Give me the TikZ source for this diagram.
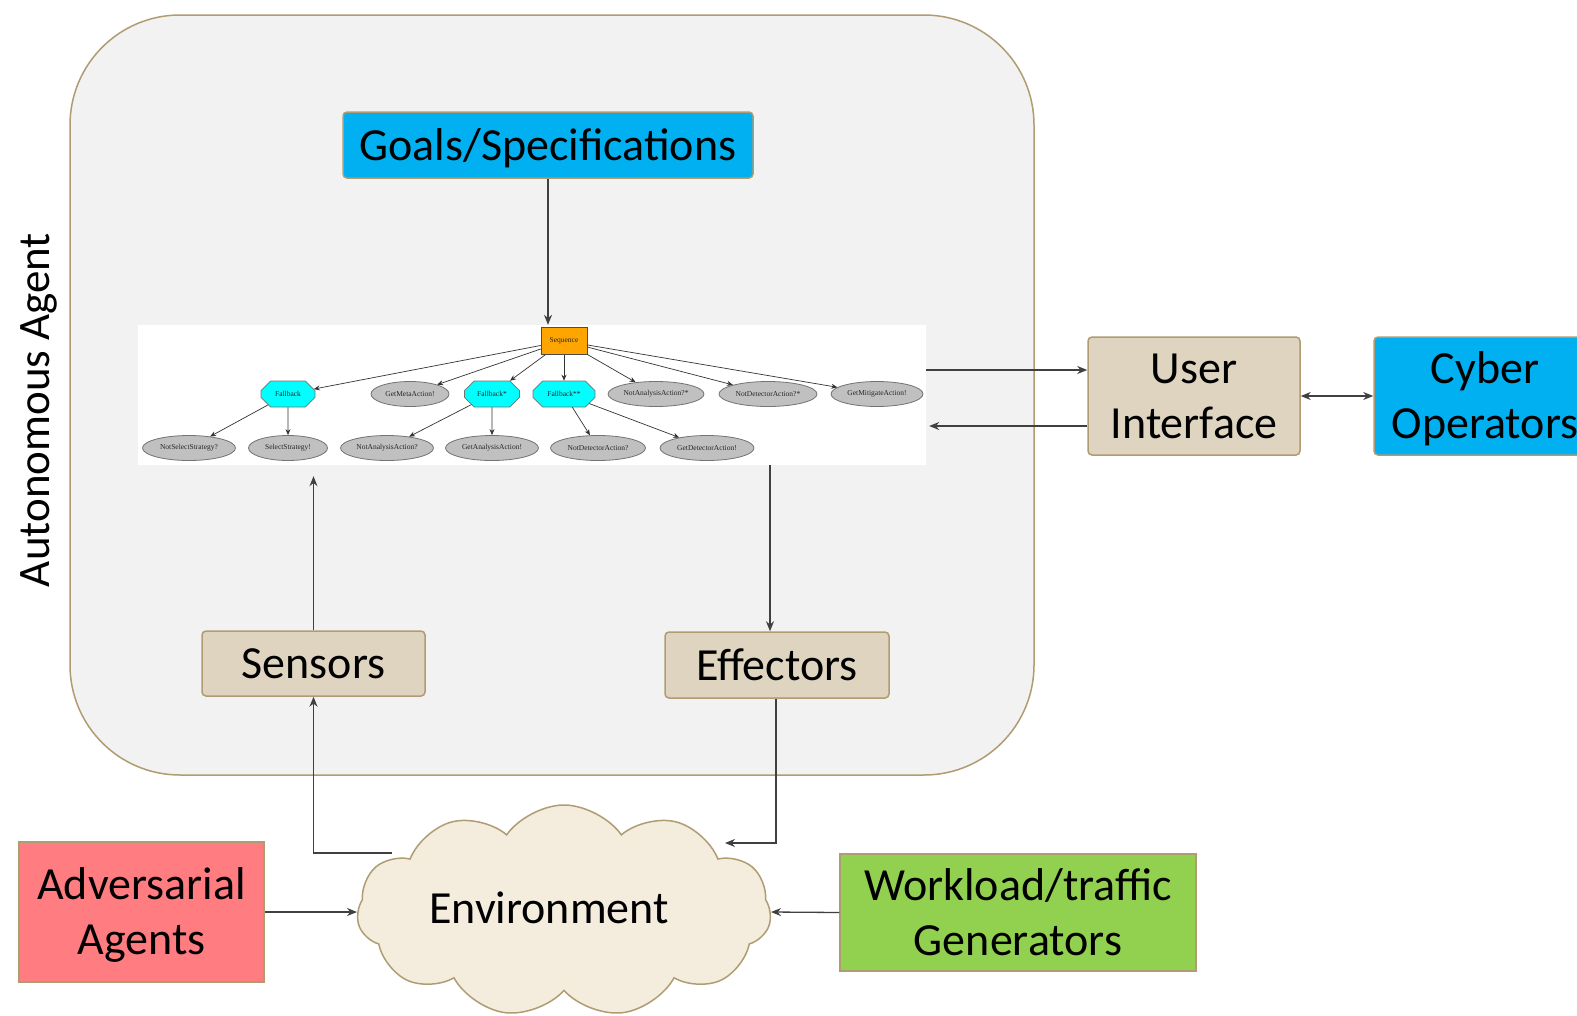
\documentclass[tikz,border=0pt]{standalone}
\usepackage{fontspec}
\setmainfont{Carlito}
\newfontfamily\treefont{Liberation Serif}
\usetikzlibrary{shapes.misc,shapes.symbols,shapes.geometric,arrows.meta}

\definecolor{panelgray}{HTML}{F2F2F2}
\definecolor{tanline}{HTML}{B09C72}
\definecolor{tanfill}{HTML}{DED4C0}
\definecolor{skyblue}{HTML}{00B0F0}
\definecolor{salmon}{HTML}{FF7C80}
\definecolor{leafgreen}{HTML}{92D050}
\definecolor{cloudfill}{HTML}{F4EDDE}
\definecolor{arrowgray}{HTML}{404040}
\definecolor{seqorange}{HTML}{FFA500}
\definecolor{fbcyan}{HTML}{00FFFF}
\definecolor{leafgray}{HTML}{C0C0C0}

% box label: lines stacked with uniform struts, nudged down so the capitals sit centred
\newcommand{\bxtext}[1]{\raisebox{-4pt}[\height][\depth]{\begin{tabular}{@{}c@{}}#1\end{tabular}}}

\tikzset{
  bigfont/.style={font=\fontsize{46}{55}\selectfont},
  box/.style={draw=tanline, line width=1.5pt, rounded corners=4pt, bigfont, inner sep=0pt},
  tanbox/.style={box, fill=tanfill},
  conn/.style={draw=arrowgray, line width=1.3pt, -{Stealth[length=10pt,width=8pt]}},
  conn2/.style={draw=arrowgray, line width=1.3pt, {Stealth[length=10pt,width=8pt]}-{Stealth[length=10pt,width=8pt]}},
  treetext/.style={font=\treefont\fontsize{7.5}{8}\selectfont, text=black!85},
  seqbox/.style={rectangle, draw=black!70, fill=seqorange, line width=0.6pt, minimum width=46pt, minimum height=27pt, inner sep=0pt, treetext},
  fbnode/.style={chamfered rectangle, chamfered rectangle xsep=7pt, chamfered rectangle ysep=7pt, draw=black!55, fill=fbcyan, line width=0.6pt, minimum height=26pt, inner sep=0pt, treetext},
  leaf/.style={ellipse, draw=black!55, fill=leafgray, line width=0.8pt, minimum height=25pt, inner sep=0pt, treetext},
  tedge/.style={draw=black!80, line width=0.7pt, -{Stealth[length=6pt,width=5pt]}},
}

\begin{document}
\begin{tikzpicture}[x=1pt,y=-1pt]
\useasboundingbox (0,0) rectangle (1577,1015);
\fill[white] (0,0) rectangle (1577,1015);

% agent panel
\node[draw=tanline, line width=1.5pt, fill=panelgray, rounded corners=110pt,
      minimum width=964pt, minimum height=760pt] (panel) at (552,395) {};
\node[rotate=90, font=\fontsize{45}{52}\selectfont] (agentlabel) at (39,410) {Autonomous Agent};

\node[box, fill=skyblue, minimum width=410pt, minimum height=66pt] (goals) at (548,145) {\bxtext{Goals/Specifications}};

% behaviour tree
\node[fill=white, minimum width=788pt, minimum height=140pt, inner sep=0pt] (tree) at (532,395) {};

\node[seqbox] (seq) at (564,341) {Sequence};
\node[fbnode, minimum width=54pt] (fb1) at (288,394) {Fallback};
\node[leaf, minimum width=78pt] (meta) at (410,394) {GetMetaAction!};
\node[fbnode, minimum width=55pt] (fb2) at (492,394) {Fallback*};
\node[fbnode, minimum width=62pt] (fb3) at (564,394) {Fallback**};
\node[leaf, minimum width=96pt] (nana2) at (656,394) {NotAnalysisAction?*};
\node[leaf, minimum width=98pt] (ndet2) at (768,394) {NotDetectorAction?*};
\node[leaf, minimum width=92pt] (mitig) at (877,394) {GetMitigateAction!};

\node[leaf, minimum width=93pt] (nsel) at (189,448) {NotSelectStrategy?};
\node[leaf, minimum width=79pt] (sel) at (288,448) {SelectStrategy!};
\node[leaf, minimum width=93pt] (nana) at (387,448) {NotAnalysisAction?};
\node[leaf, minimum width=93pt] (gana) at (492,448) {GetAnalysisAction!};
\node[leaf, minimum width=95pt] (ndet) at (598,448) {NotDetectorAction?};
\node[leaf, minimum width=94pt] (gdet) at (707,448) {GetDetectorAction!};

\foreach \c in {fb1,meta,fb2,fb3,nana2,ndet2,mitig}
  \draw[tedge] (seq) -- (\c);
\draw[tedge] (fb1) -- (nsel);
\draw[tedge] (fb1) -- (sel);
\draw[tedge] (fb2) -- (nana);
\draw[tedge] (fb2) -- (gana);
\draw[tedge] (fb3) -- (ndet);
\draw[tedge] (fb3) -- (gdet);

% interface side
\node[tanbox, minimum width=212pt, minimum height=118pt] (ui) at (1194,396) {\bxtext{User\\Interface}};
\node[box, fill=skyblue, minimum width=222pt, minimum height=118pt] (cyber) at (1485,396) {\bxtext{Cyber\\Operators}};

\node[tanbox, minimum width=223pt, minimum height=65pt] (sens) at (313.5,663.5) {\bxtext{Sensors}};
\node[tanbox, minimum width=224pt, minimum height=66pt] (eff) at (777,665) {\bxtext{Effectors}};

% surroundings
\node[cloud, cloud puffs=11, cloud puff arc=110, aspect=2, draw=tanline, line width=1.5pt,
      fill=cloudfill, minimum width=414pt, minimum height=212pt, inner sep=0pt] (env) at (564,911) {};
\node[bigfont] (envlabel) at (549,908) {Environment};

\node[box, rounded corners=0pt, fill=salmon, minimum width=245pt, minimum height=140pt] (adv) at (141.5,912) {\bxtext{Adversarial\\Agents}};
\node[box, rounded corners=0pt, fill=leafgreen, minimum width=356pt, minimum height=117pt] (work) at (1018,912.5) {\bxtext{Workload/traffic\\Generators}};

% connector end points
\coordinate (uiTop) at ([yshift=26pt]ui.west);
\coordinate (uiBot) at ([yshift=-30pt]ui.west);
\coordinate (treeBotIn) at ([xshift=3pt]tree.east |- uiBot);
\coordinate (effIn) at ([xshift=-7pt]eff.north);
\coordinate (sensTip) at ([yshift=-11pt]sens.north |- tree.south);
\coordinate (envOutL) at (392,853);
\coordinate (envInR) at (725,843);
\coordinate (envW) at (357,912);
\coordinate (envE) at (771,912);

% connectors
\draw[conn] (goals.south) -- (goals.south |- tree.north);
\draw[conn] (tree.east |- uiTop) -- (uiTop);
\draw[conn] (uiBot) -- (treeBotIn);
\draw[conn2] (ui.east) -- (cyber.west);
\draw[conn] (tree.south -| effIn) -- (effIn);
\draw[conn] (sens.north) -- (sensTip);
\draw[conn] (envOutL) -| (sens.south);
\draw[conn] ([xshift=-1pt]eff.south) |- (envInR);
\draw[conn] (adv.east) -- (envW);
\draw[conn] (work.west) -- (envE);
\end{tikzpicture}
\end{document}
